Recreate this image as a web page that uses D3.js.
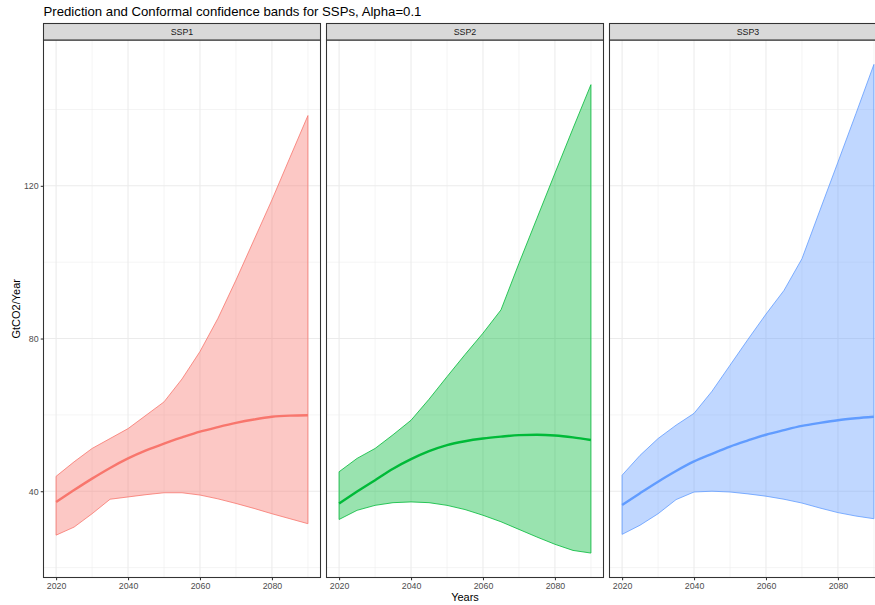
<!DOCTYPE html>
<html>
<head>
<meta charset="utf-8">
<script src="https://cdnjs.cloudflare.com/ajax/libs/d3/7.8.5/d3.min.js"></script>
<style>
  body { margin: 0; background: #fff; }
  svg { font-family: "Liberation Sans", Arial, sans-serif; }
</style>
</head>
<body>
<svg id="svg" width="875" height="605"></svg>
<script>
// data (GtCO2/Year)
let years = [2020, 2025, 2030, 2035, 2040, 2045, 2050, 2055, 2060, 2065, 2070, 2075, 2080, 2085, 2090];
let scenarios = ['SSP1', 'SSP2', 'SSP3'];

let ssp1Mean  = [37.2, 40.3, 43.3, 46.1, 48.6, 50.7, 52.5, 54.1, 55.6, 56.8, 57.9, 58.8, 59.5, 59.8, 59.9];
let ssp1Lower = [28.5, 30.6, 34.1, 37.9, 38.5, 39.1, 39.6, 39.6, 39.0, 38.0, 36.8, 35.5, 34.1, 32.8, 31.5];
let ssp1Upper = [43.9, 47.7, 51.2, 53.8, 56.4, 59.9, 63.4, 69.4, 76.6, 85.3, 95.3, 105.8, 116.3, 127.4, 138.4];

let ssp2Mean  = [36.8, 39.9, 42.9, 45.9, 48.4, 50.5, 52.1, 53.1, 53.8, 54.3, 54.7, 54.8, 54.6, 54.1, 53.4];
let ssp2Lower = [32.6, 35.0, 36.3, 37.0, 37.2, 37.0, 36.3, 35.2, 33.7, 32.0, 30.0, 28.0, 26.1, 24.5, 23.8];
let ssp2Upper = [45.1, 48.6, 51.2, 54.8, 58.6, 64.1, 70.0, 75.8, 81.4, 87.5, 99.7, 111.5, 123.3, 135.0, 146.5];

let ssp3Mean  = [36.4, 39.5, 42.5, 45.3, 47.8, 49.8, 51.7, 53.3, 54.8, 56.0, 57.1, 57.9, 58.6, 59.1, 59.5];
let ssp3Lower = [28.7, 31.1, 34.1, 37.8, 39.8, 40.0, 39.8, 39.3, 38.7, 37.9, 36.9, 35.6, 34.4, 33.5, 32.8];
let ssp3Upper = [44.2, 49.4, 53.8, 57.3, 60.4, 66.2, 73.0, 79.8, 86.4, 92.6, 100.9, 113.6, 126.2, 138.9, 151.8];

let xMajor = [2020, 2040, 2060, 2080];
let xMinor = [2030, 2050, 2070, 2090];
let yMajor = [40, 80, 120];
let yMinor = [20, 60, 100, 140];

let colorSet = ['#F8766D', '#00BA38', '#619CFF'];

let series = [
  {key: scenarios[0], mean: ssp1Mean, lower: ssp1Lower, upper: ssp1Upper},
  {key: scenarios[1], mean: ssp2Mean, lower: ssp2Lower, upper: ssp2Upper},
  {key: scenarios[2], mean: ssp3Mean, lower: ssp3Lower, upper: ssp3Upper}
];

function render() {
  let svg = d3.select('#svg');

  let panelLeft = 43.5;
  let panelWidth = 277;
  let panelGap = 6;
  let stripTop = 23.5;
  let stripHeight = 16.5;
  let panelTop = stripTop + stripHeight;
  let panelBottom = 577.5;

  // ggplot style 5% expansion
  let xExt = d3.extent(years);
  let xPad = (xExt[1] - xExt[0]) * 0.05;
  let allVals = [].concat(...series.map(s => s.lower.concat(s.upper)));
  let yExt = d3.extent(allVals);
  let yPad = (yExt[1] - yExt[0]) * 0.05;

  let xScale = d3.scaleLinear()
    .domain([xExt[0] - xPad, xExt[1] + xPad])
    .range([0, panelWidth]);
  let yScale = d3.scaleLinear()
    .domain([yExt[0] - yPad, yExt[1] + yPad])
    .range([panelBottom, panelTop]);

  svg.append('text')
    .attr('x', panelLeft)
    .attr('y', 15.5)
    .attr('font-size', 13.2)
    .attr('fill', '#000')
    .text('Prediction and Conformal confidence bands for SSPs, Alpha=0.1');

  let area = d3.area()
    .x((d, i) => xScale(years[i]))
    .y0(d => yScale(d[0]))
    .y1(d => yScale(d[1]));
  let line = d3.line()
    .x((d, i) => xScale(years[i]))
    .y(d => yScale(d))
    .curve(d3.curveMonotoneX);

  series.forEach((s, k) => {
    let x0 = panelLeft + k * (panelWidth + panelGap);
    let g = svg.append('g')
      .attr('class', 'panel')
      .attr('transform', `translate(${x0},0)`);

    g.append('clipPath')
      .attr('id', 'clip' + k)
      .append('rect')
      .attr('x', 0)
      .attr('y', panelTop)
      .attr('width', panelWidth)
      .attr('height', panelBottom - panelTop);

    let inner = g.append('g').attr('clip-path', `url(#clip${k})`);

    // grid
    inner.selectAll('.vminor')
      .data(xMinor)
      .enter()
      .append('line')
      .attr('x1', d => xScale(d)).attr('x2', d => xScale(d))
      .attr('y1', panelTop).attr('y2', panelBottom)
      .attr('stroke', '#EBEBEB').attr('stroke-width', 0.55);
    inner.selectAll('.hminor')
      .data(yMinor)
      .enter()
      .append('line')
      .attr('x1', 0).attr('x2', panelWidth)
      .attr('y1', d => yScale(d)).attr('y2', d => yScale(d))
      .attr('stroke', '#EBEBEB').attr('stroke-width', 0.55);
    inner.selectAll('.vmajor')
      .data(xMajor)
      .enter()
      .append('line')
      .attr('x1', d => xScale(d)).attr('x2', d => xScale(d))
      .attr('y1', panelTop).attr('y2', panelBottom)
      .attr('stroke', '#EBEBEB').attr('stroke-width', 1.07);
    inner.selectAll('.hmajor')
      .data(yMajor)
      .enter()
      .append('line')
      .attr('x1', 0).attr('x2', panelWidth)
      .attr('y1', d => yScale(d)).attr('y2', d => yScale(d))
      .attr('stroke', '#EBEBEB').attr('stroke-width', 1.07);

    let band = s.lower.map((d, i) => [d, s.upper[i]]);
    inner.append('path')
      .attr('d', area(band))
      .attr('fill', colorSet[k])
      .attr('fill-opacity', 0.4)
      .attr('stroke', colorSet[k])
      .attr('stroke-width', 0.8);

    inner.append('path')
      .attr('d', line(s.mean))
      .attr('fill', 'none')
      .attr('stroke', colorSet[k])
      .attr('stroke-width', 2.4);

    // panel border
    g.append('rect')
      .attr('x', 0)
      .attr('y', panelTop)
      .attr('width', panelWidth)
      .attr('height', panelBottom - panelTop)
      .attr('fill', 'none')
      .attr('stroke', '#333333')
      .attr('stroke-width', 1.07);

    // strip
    g.append('rect')
      .attr('x', 0)
      .attr('y', stripTop)
      .attr('width', panelWidth)
      .attr('height', stripHeight)
      .attr('fill', '#D9D9D9')
      .attr('stroke', '#333333')
      .attr('stroke-width', 1.07);
    g.append('text')
      .attr('x', panelWidth / 2)
      .attr('y', stripTop + stripHeight / 2 + 3)
      .attr('text-anchor', 'middle')
      .attr('font-size', 8.8)
      .attr('fill', '#1A1A1A')
      .text(s.key);

    // x axis
    let xAxis = d3.axisBottom(xScale)
      .tickValues(xMajor)
      .tickFormat(d3.format('d'))
      .tickSize(2.75)
      .tickPadding(2.2);
    let gx = g.append('g')
      .attr('transform', `translate(0,${panelBottom})`)
      .call(xAxis);
    gx.select('.domain').remove();
    gx.selectAll('line').attr('stroke', '#333333').attr('stroke-width', 1.07);
    gx.selectAll('text').attr('fill', '#4D4D4D').attr('font-size', 8.8)
      .attr('font-family', '"Liberation Sans", Arial, sans-serif');

    if (k === 0) {
      let yAxis = d3.axisLeft(yScale)
        .tickValues(yMajor)
        .tickSize(2.75)
        .tickPadding(2.2);
      let gy = g.append('g').call(yAxis);
      gy.select('.domain').remove();
      gy.selectAll('line').attr('stroke', '#333333').attr('stroke-width', 1.07);
      gy.selectAll('text').attr('fill', '#4D4D4D').attr('font-size', 8.8)
        .attr('font-family', '"Liberation Sans", Arial, sans-serif');
    }
  });

  let plotRight = panelLeft + 3 * panelWidth + 2 * panelGap;
  svg.append('text')
    .attr('x', (panelLeft + plotRight) / 2)
    .attr('y', 601)
    .attr('text-anchor', 'middle')
    .attr('font-size', 11)
    .attr('fill', '#000')
    .text('Years');

  svg.append('text')
    .attr('transform', `translate(19.5,${(panelTop + panelBottom) / 2}) rotate(-90)`)
    .attr('text-anchor', 'middle')
    .attr('font-size', 11)
    .attr('fill', '#000')
    .text('GtCO2/Year');
}

render();
</script>
</body>
</html>
